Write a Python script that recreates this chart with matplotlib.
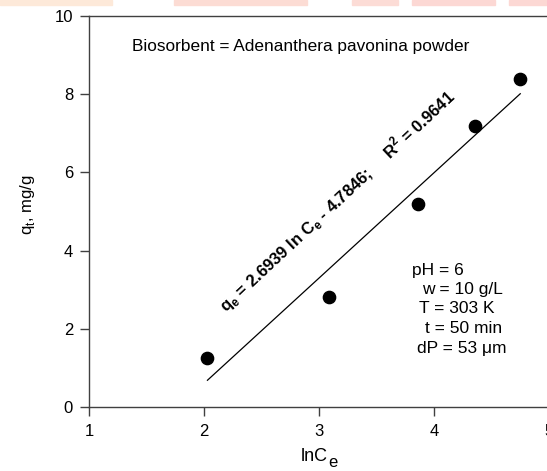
import numpy as np
import matplotlib
matplotlib.use('Agg')
from matplotlib import pyplot as plt
from matplotlib.patches import Rectangle

plt.rcParams['font.family'] = ['Liberation Sans', 'DejaVu Sans']
plt.rcParams['mathtext.fontset'] = 'custom'
plt.rcParams['mathtext.rm'] = 'Liberation Sans'
plt.rcParams['mathtext.bf'] = 'Liberation Sans:bold'

# data
ln_ce = [2.03, 3.09, 3.86, 4.36, 4.75]
qt = [1.25, 2.81, 5.19, 7.19, 8.39]
slope = 2.6939
intercept = -4.7846

x_ticks = [1, 2, 3, 4, 5]
y_ticks = [0, 2, 4, 6, 8, 10]

conditions = ['pH = 6', 'w = 10 g/L', 'T = 303 K', 't = 50 min', 'dP = 53 \u03bcm']
cond_x = [3.81, 3.90, 3.87, 3.92, 3.85]
cond_y = [3.50, 3.01, 2.52, 2.01, 1.50]

fig = plt.figure(figsize=(5.47, 4.71), dpi=100)

# faint coloured strips along the top edge (crop leftovers)
for x0, w, c in [(0, 112, '#fde9d9'), (174, 133, '#fcdcd4'), (352, 46, '#fcdcd6'),
                 (412, 83, '#fcd8d4'), (509, 38, '#fcd8d4')]:
    fig.patches.append(Rectangle((x0 / 547, 1 - 5 / 471), w / 547, 5 / 471,
                                 transform=fig.transFigure, color=c, zorder=0))

ax = fig.add_axes([89 / 547, 64 / 471, 460 / 547, 391 / 471])

ax.scatter(ln_ce, qt, s=78, color='black', zorder=3)
xf = np.array([min(ln_ce), max(ln_ce)])
ax.plot(xf, slope * xf + intercept, color='black', lw=0.9)

ax.set_xlim(1, 5)
ax.set_ylim(0, 10)
ax.set_xticks(x_ticks)
ax.set_yticks(y_ticks)
ax.tick_params(direction='out', length=6.5, width=1, color='#404040', labelsize=12)
ax.tick_params(axis='x', pad=6)
ax.tick_params(axis='y', pad=5)
for s in ax.spines.values():
    s.set_color('#404040')
    s.set_linewidth(1)

ax.set_ylabel(r'q$_\mathrm{t}$, mg/g', fontsize=12)
ax.yaxis.set_label_coords(-0.112, 0.517)

# x label with a full-size subscript e
fig.text(328 / 547, 1 - 461 / 471, 'lnC', fontsize=13, ha='right', va='baseline')
fig.text(328 / 547, 1 - 467 / 471, 'e', fontsize=12, ha='left', va='baseline')

ax.text(1.37, 9.22, 'Biosorbent = Adenanthera pavonina powder', fontsize=12.4,
        va='center', ha='left')

ax.text(2.19, 2.40, r'q$_\mathbf{e}$ = 2.6939 ln C$_\mathbf{e}$ - 4.7846;     R$^\mathbf{2}$ = 0.9641',
        fontsize=12, fontweight='bold', rotation=43, rotation_mode='anchor',
        ha='left', va='baseline')

for label, x, y in zip(conditions, cond_x, cond_y):
    ax.text(x, y, label, fontsize=12.5, ha='left', va='center')

fig.savefig('out.png', dpi=100)
